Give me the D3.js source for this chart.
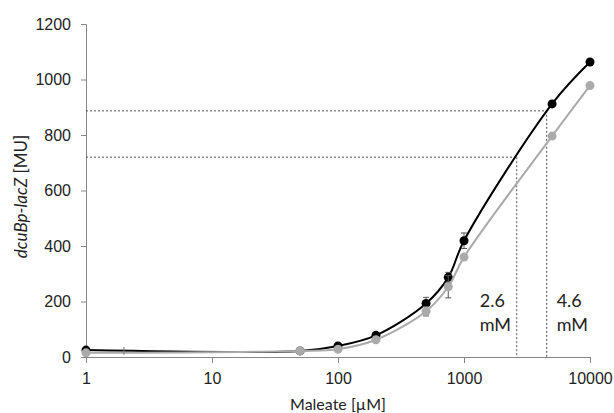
<!DOCTYPE html>
<html>
<head>
<meta charset="utf-8">
<script src="https://cdn.jsdelivr.net/npm/d3@7/dist/d3.min.js"></script>
<style>
  body { margin: 0; background: #fff; }
  svg { font-family: Lato, 'Open Sans', sans-serif; }
</style>
</head>
<body>
<svg id="chart"></svg>
<script>
// maleate concentrations (uM)
const conc = [1, 50, 100, 200, 500, 750, 1000, 5000, 10000];
const blackVals = [25, 22, 40, 78, 193, 287, 419, 912, 1063];
const blackErr = [4, 3, 5, 6, 22, 18, 28, 6, 8];
const grayVals = [15, 22, 28, 62, 165, 253, 360, 796, 978];
const grayErr = [3, 3, 4, 5, 17, 40, 8, 6, 10];
// stray error bar without a marker (at 2 uM)
const strayConc = [2];
const strayVals = [22];
const strayErr = [14];
const yTicks = [0, 200, 400, 600, 800, 1000, 1200];
const xTicks = [1, 10, 100, 1000, 10000];
// thresholds: value, concentration (uM), label, which side of the line
const thresholds = [
  {v: 720, c: 2620, label: ['2.6', 'mM'], side: 'left'},
  {v: 887, c: 4530, label: ['4.6', 'mM'], side: 'right'}
];

const W = 614, H = 413;
const margin = {top: 24, right: 24, bottom: 56, left: 86};
const width = W - margin.left - margin.right;
const height = H - margin.top - margin.bottom;

const svg = d3.select('#chart')
.attr('width', W)
.attr('height', H)
.append('g')
.attr('transform', `translate(${margin.left}, ${margin.top})`);

const x = d3.scaleLog()
.domain([1, 10000])
.range([0, width]);

const y = d3.scaleLinear()
.domain([0, 1200])
.range([height, 0]);

const axisColor = '#868686';

// y axis
const yAxis = svg.append('g')
.call(d3.axisLeft(y).tickValues(yTicks).tickFormat(d3.format('d')).tickSize(5).tickPadding(10));
yAxis.select('.domain').attr('stroke', axisColor);
yAxis.selectAll('.tick line').attr('stroke', axisColor);
yAxis.selectAll('.tick text').style('font-size', '16px').style('fill', '#222');

// x axis
const xAxis = svg.append('g')
.attr('transform', `translate(0, ${height})`)
.call(d3.axisBottom(x).tickValues(xTicks).tickFormat(d3.format('d')).tickSize(6).tickPadding(10));
xAxis.select('.domain').attr('stroke', axisColor);
xAxis.selectAll('.tick line').attr('stroke', axisColor);
xAxis.selectAll('.tick text').style('font-size', '16px').style('fill', '#222');

// dashed threshold guides
thresholds.forEach(t => {
  svg.append('line')
  .attr('x1', 0).attr('x2', x(t.c))
  .attr('y1', y(t.v)).attr('y2', y(t.v))
  .attr('stroke', '#555').attr('stroke-width', 1)
  .attr('stroke-dasharray', '2,2');
  svg.append('line')
  .attr('x1', x(t.c)).attr('x2', x(t.c))
  .attr('y1', y(t.v)).attr('y2', height)
  .attr('stroke', '#555').attr('stroke-width', 1)
  .attr('stroke-dasharray', '2,2');
  const lx = t.side === 'left' ? x(t.c) - 37 : x(t.c) + 10;
  const lbl = svg.append('text')
  .attr('y', y(0) - 50)
  .style('font-size', '18px')
  .style('fill', '#222');
  lbl.append('tspan').attr('x', lx).text(t.label[0]);
  lbl.append('tspan').attr('x', lx).attr('dy', 24).text(t.label[1]);
});

const line = d3.line()
.x(d => x(d.c))
.y(d => y(d.v))
.curve(d3.curveCatmullRom.alpha(0.5));

function errorBars(pts, color, cap) {
  const g = svg.append('g');
  pts.forEach(d => {
    g.append('line')
    .attr('x1', x(d.c)).attr('x2', x(d.c))
    .attr('y1', y(d.v - d.e)).attr('y2', y(d.v + d.e))
    .attr('stroke', color).attr('stroke-width', 1);
    if (!cap) return;
    [d.v - d.e, d.v + d.e].forEach(v => {
      g.append('line')
      .attr('x1', x(d.c) - cap).attr('x2', x(d.c) + cap)
      .attr('y1', y(v)).attr('y2', y(v))
      .attr('stroke', color).attr('stroke-width', 1);
    });
  });
}

function drawSeries(vals, errs, color) {
  const pts = conc.map((c, i) => ({c: c, v: vals[i], e: errs[i]}));
  svg.append('path')
  .datum(pts)
  .attr('d', line)
  .attr('fill', 'none')
  .attr('stroke', color)
  .attr('stroke-width', 2);
  errorBars(pts, '#555', 3);
  svg.selectAll(null)
  .data(pts)
  .enter()
  .append('circle')
  .attr('cx', d => x(d.c))
  .attr('cy', d => y(d.v))
  .attr('r', 4.5)
  .attr('fill', color);
}

drawSeries(blackVals, blackErr, '#000');
drawSeries(grayVals, grayErr, '#aaaaaa');
errorBars(strayConc.map((c, i) => ({c: c, v: strayVals[i], e: strayErr[i]})), '#777', 0);

// axis titles
svg.append('text')
.attr('x', x(100))
.attr('y', height + 53)
.attr('text-anchor', 'middle')
.style('font-size', '16px')
.style('fill', '#222')
.text('Maleate [\u00b5M]');

const yt = svg.append('text')
.attr('transform', 'rotate(-90)')
.attr('x', -(y(600) + 6))
.attr('y', -59)
.attr('text-anchor', 'middle')
.style('font-size', '17px')
.style('fill', '#222');
yt.append('tspan').style('font-style', 'italic').text('dcuBp-lacZ');
yt.append('tspan').text(' [MU]');
</script>
</body>
</html>
